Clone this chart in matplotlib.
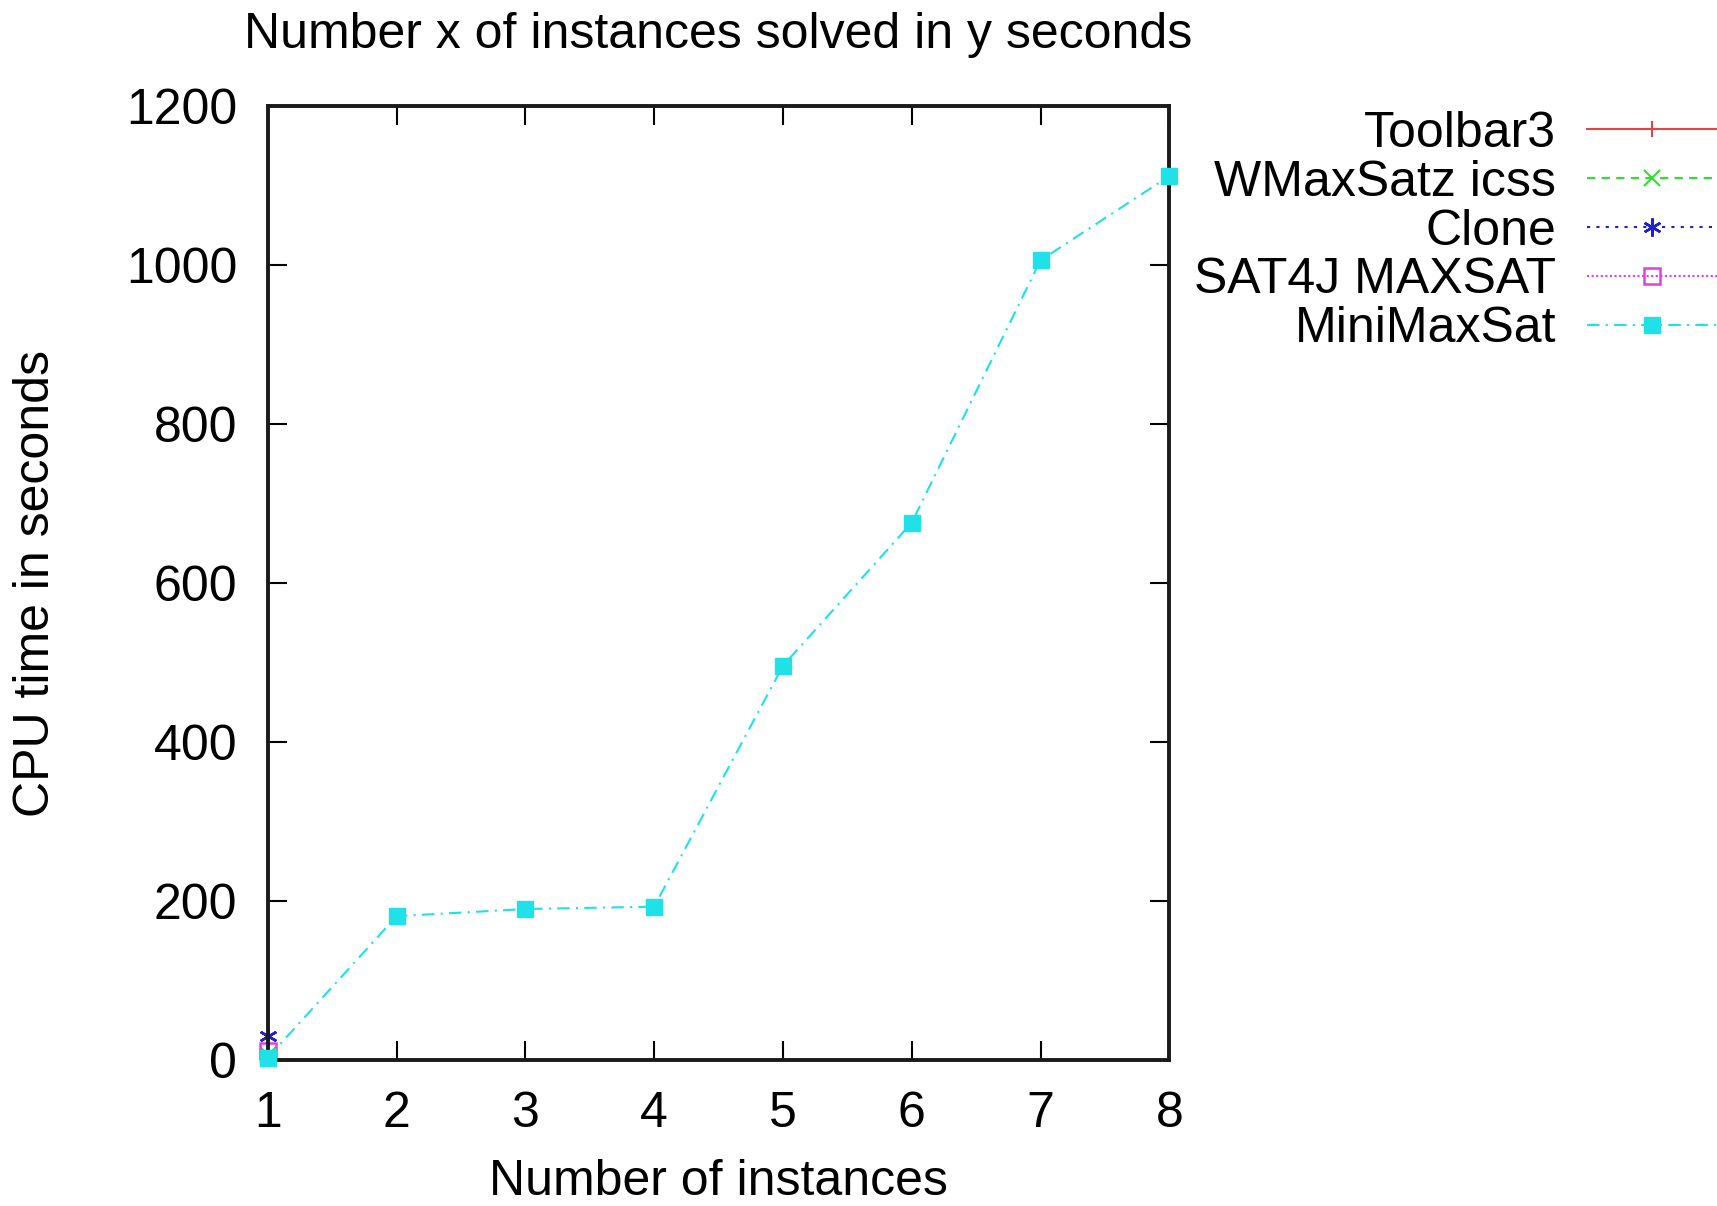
import matplotlib
matplotlib.use("Agg")
import matplotlib.pyplot as plt

plt.rcParams['font.family'] = ['Liberation Sans', 'DejaVu Sans']

toolbar3_x = [1]
toolbar3_y = [1]
wmaxsatz_x = [1]
wmaxsatz_y = [6]
clone_x = [1]
clone_y = [30]
sat4j_x = [1]
sat4j_y = [12]
minimaxsat_x = [1, 2, 3, 4, 5, 6, 7, 8]
minimaxsat_y = [3, 181, 190, 193, 496, 676, 1006, 1112]

x_ticks = [1, 2, 3, 4, 5, 6, 7, 8]
y_ticks = [0, 200, 400, 600, 800, 1000, 1200]

fig = plt.figure(figsize=(17.17, 12.06), dpi=100)
ax = fig.add_axes([0.156, 0.121, 0.525, 0.791])

fs = 36
ax.plot(toolbar3_x, toolbar3_y, color='#d84848', ls='-', lw=1.5, marker='+', ms=12, mew=1.5, label='Toolbar3', clip_on=False)
ax.plot(wmaxsatz_x, wmaxsatz_y, color='#30e030', ls=(0, (4, 3)), lw=1.5, marker='x', ms=11, mew=1.5, label='WMaxSatz icss', clip_on=False)
ax.plot(clone_x, clone_y, color='#2020d0', ls=(0, (1.5, 3)), lw=1.5, marker=(6, 2, 0), ms=13, mew=1.8, label='Clone', clip_on=False)
ax.plot(sat4j_x, sat4j_y, color='#e040e0', ls=(0, (1, 1.2)), lw=1.5, marker='s', ms=12, mfc='none', mew=1.8, label='SAT4J MAXSAT', clip_on=False)
ax.plot(minimaxsat_x, minimaxsat_y, color='#20e0e8', ls=(0, (6, 3, 1, 3)), lw=1.5, marker='s', ms=12, label='MiniMaxSat', clip_on=False, zorder=5)

ax.set_xlim(1, 8)
ax.set_ylim(0, 1200)
ax.set_xticks(x_ticks)
ax.set_yticks(y_ticks)
ax.tick_params(direction='in', length=14, width=1.5, top=True, right=True, labelsize=fs, pad=22)
for s in ax.spines.values():
    s.set_linewidth(2.8)
    s.set_color('#1a1a1a')

ax.set_title('Number x of instances solved in y seconds', fontsize=fs, pad=42)
ax.set_xlabel('Number of instances', fontsize=fs, labelpad=16)
ax.set_ylabel('CPU time in seconds', fontsize=fs, labelpad=48)

leg = fig.legend(loc='upper right', bbox_to_anchor=(1.0, 0.908), frameon=False,
                 markerfirst=False, fontsize=fs, handlelength=2.6, handletextpad=0.62,
                 labelspacing=0.056, borderaxespad=0, borderpad=0)

fig.savefig('out.png', dpi=100)
